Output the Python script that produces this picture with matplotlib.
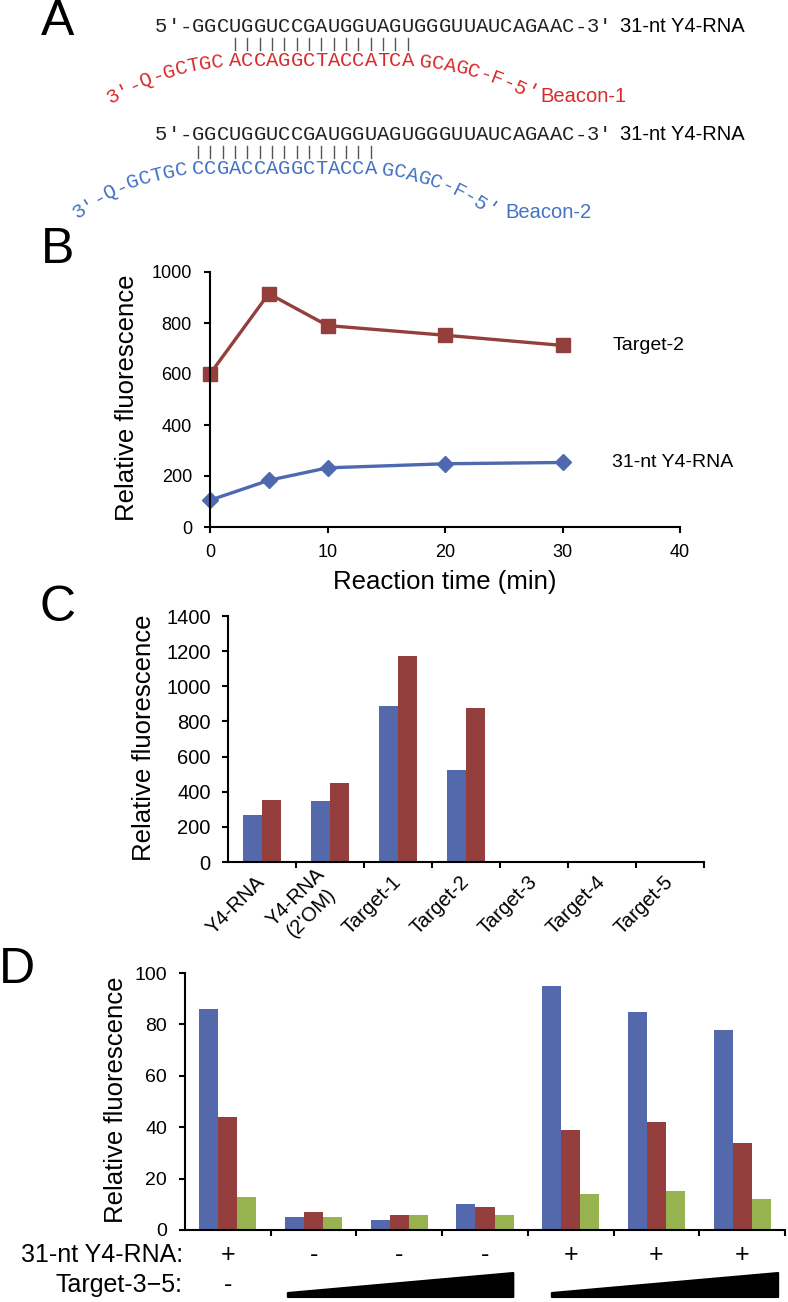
import numpy as np
import matplotlib
matplotlib.use("Agg")
import matplotlib.pyplot as plt
from matplotlib import transforms
from matplotlib.patches import Polygon

plt.rcParams['font.family'] = ['Liberation Sans', 'DejaVu Sans']

# ---- data ----
# panel A: Y4-RNA and the two beacons
y4_seq = "GGCUGGUCCGAUGGUAGUGGGUUAUCAGAAC"
beacon1_left = "3′-Q-GCTGC"
beacon1_stem = "ACCAGGCTACCATCA"
beacon1_right = "GCAGC-F-5′"
beacon1_start = 3          # first paired nucleotide of Y4-RNA
beacon2_left = "3′-Q-GCTGC"
beacon2_stem = "CCGACCAGGCTACCA"
beacon2_right = "GCAGC-F-5′"
beacon2_start = 0

# panel B: time course
time_min = [0, 5, 10, 20, 30]
target2_fl = [600, 915, 790, 752, 712]
y4rna_fl = [105, 183, 232, 248, 253]

# panel C
c_labels = ["Y4-RNA", "Y4-RNA\n(2'OM)", "Target-1", "Target-2", "Target-3", "Target-4", "Target-5"]
c_blue = [265, 350, 885, 525, 4, 1, 8]
c_red = [355, 450, 1170, 875, 2, 1, 5]

# panel D
d_y4 = ["+", "-", "-", "-", "+", "+", "+"]
d_target = ["-", "", "", "", "", "", ""]
d_blue = [86, 5, 4, 10, 95, 85, 78]
d_red = [44, 7, 6, 9, 39, 42, 34]
d_green = [13, 5, 6, 6, 14, 15, 12]

# ---- style ----
W, H = 788, 1302
BLUE = '#5469AC'
RED = '#943F3E'
GREEN = '#97B34F'
TXT_RED = '#D92B2B'
TXT_BLUE = '#4472C4'
mono = ['Liberation Mono', 'DejaVu Sans Mono']
seq_fs = 14.8
cw = seq_fs / 72 * 100 * 0.6   # char width in px
x0 = 155

fig = plt.figure(figsize=(W / 100, H / 100), dpi=100)


def rect(l, t, r, b):
    return [l / W, 1 - b / H, (r - l) / W, (b - t) / H]


ov = fig.add_axes([0, 0, 1, 1])
ov.set_xlim(0, W)
ov.set_ylim(H, 0)
ov.axis('off')

# panel letters
for letter, (lx, ly) in zip("ABCD", [(58, 22), (58, 250), (58, 608), (17, 970)]):
    ov.text(lx, ly, letter, fontsize=36, ha='center', va='center')


def arm(xs, ys, chars, a0, a1, direction, col):
    angs = np.linspace(a0, a1, len(chars))
    seq = chars if direction > 0 else chars[::-1]
    x, y = xs, ys
    for i, ch in enumerate(seq):
        if i > 0:
            th = np.radians((angs[i] + angs[i - 1]) / 2)
            x += direction * cw * np.cos(th)
            y += cw * np.sin(th)
        rot = -angs[i] if direction > 0 else angs[i]
        ov.text(x, y, ch, family=mono, fontsize=seq_fs, color=col, rotation=rot,
                rotation_mode='anchor', ha='center', va='center')


def duplex(y_top, y_stem, left, stem, right, start, col, name, a_left, a_right, lab_xy):
    top = "5′-" + y4_seq + "-3′"
    for i, ch in enumerate(top):
        ov.text(x0 + (i + 0.5) * cw, y_top, ch, family=mono, fontsize=seq_fs,
                ha='center', va='center', color='#222222')
    ov.text(x0 + len(top) * cw + 9, y_top, "31-nt Y4-RNA", fontsize=14.5, ha='left', va='center')
    i0 = start + 3
    for k, ch in enumerate(stem):
        xc = x0 + (i0 + k + 0.5) * cw
        ov.plot([xc, xc], [y_top + 11, y_top + 23], color='#555555', lw=1)
        ov.text(xc, y_stem, ch, family=mono, fontsize=seq_fs, ha='center', va='center', color=col)
    first = x0 + (i0 + 0.5) * cw
    last = x0 + (i0 + len(stem) - 0.5) * cw
    arm(first - cw - 5, y_stem + 1, left, a_left[0], a_left[1], -1, col)
    arm(last + cw + 5, y_stem + 1, right, a_right[0], a_right[1], 1, col)
    ov.text(lab_xy[0], lab_xy[1], name, fontsize=14.5, color=col, ha='left', va='center')


duplex(27, 61, beacon1_left, beacon1_stem, beacon1_right, beacon1_start, TXT_RED,
       "Beacon-1", (6, 30), (6, 28), (540, 97))
duplex(135, 169, beacon2_left, beacon2_stem, beacon2_right, beacon2_start, TXT_BLUE,
       "Beacon-2", (8, 36), (8, 36), (505, 212))


def style_axes(ax):
    for s in ['top', 'right']:
        ax.spines[s].set_visible(False)
    for s in ['left', 'bottom']:
        ax.spines[s].set_linewidth(1.5)
    ax.tick_params(which='both', direction='out', width=1.5, length=4)


# ---- panel B ----
axB = fig.add_axes(rect(210, 272, 680, 527))
axB.plot(time_min, target2_fl, color='#953F3D', lw=2.4, marker='s', ms=10.5, clip_on=False)
axB.plot(time_min, y4rna_fl, color='#4E69B0', lw=2.4, marker='D', ms=8.5, clip_on=False)
axB.set_xlim(0, 40)
axB.set_ylim(0, 1000)
axB.set_xticks([0, 10, 20, 30, 40])
axB.set_yticks(range(0, 1001, 200))
style_axes(axB)
axB.tick_params(axis='y', labelsize=13, pad=9)
axB.tick_params(axis='x', labelsize=13, pad=8)
axB.annotate("Target-2", (time_min[-1], target2_fl[-1]), xytext=(50, 0),
             textcoords='offset pixels', fontsize=14, va='center')
axB.annotate("31-nt Y4-RNA", (time_min[-1], y4rna_fl[-1]), xytext=(50, 0),
             textcoords='offset pixels', fontsize=14, va='center')
fig.text(127 / W, 1 - 398 / H, "Relative fluorescence", rotation=90, fontsize=18.5,
         ha='center', va='center')
fig.text(445 / W, 1 - 582 / H, "Reaction time (min)", fontsize=18.5, ha='center', va='center')

# ---- panel C ----
axC = fig.add_axes(rect(228, 616, 704, 862))
xc = np.arange(len(c_labels))
wc = 0.285
axC.bar(xc - wc / 2, c_blue, wc, color=BLUE)
axC.bar(xc + wc / 2, c_red, wc, color=RED)
axC.set_xlim(-0.5, len(c_labels) - 0.5)
axC.set_ylim(0, 1400)
axC.set_yticks(range(0, 1401, 200))
style_axes(axC)
axC.tick_params(axis='y', labelsize=14.5, pad=8.5)
axC.set_xticks(xc)
axC.set_xticklabels(c_labels, rotation=45, ha='right', va='center', rotation_mode='anchor',
                    multialignment='center', fontsize=14.5)
axC.tick_params(axis='x', which='major', length=0, pad=12)
axC.set_xticks(xc + 0.5, minor=True)
fig.text(144 / W, 1 - 738 / H, "Relative fluorescence", rotation=90, fontsize=18.5,
         ha='center', va='center')

# ---- panel D ----
axD = fig.add_axes(rect(185, 973, 785, 1230))
xd = np.arange(len(d_blue))
wd = 0.222
axD.bar(xd - wd, d_blue, wd, color=BLUE)
axD.bar(xd, d_red, wd, color=RED)
axD.bar(xd + wd, d_green, wd, color=GREEN)
axD.set_xlim(-0.5, len(d_blue) - 0.5)
axD.set_ylim(0, 100)
axD.set_yticks(range(0, 101, 20))
style_axes(axD)
axD.tick_params(axis='y', labelsize=14, pad=9)
axD.set_xticks([])
axD.set_xticks(xd + 0.5, minor=True)
fig.text(116 / W, 1 - 1100 / H, "Relative fluorescence", rotation=90, fontsize=18.5,
         ha='center', va='center')

trD = transforms.blended_transform_factory(axD.transData, axD.transAxes)
ph = 1230 - 973
for i in range(len(d_y4)):
    axD.text(i, -25 / ph, d_y4[i], transform=trD, fontsize=18, ha='center', va='center')
    if d_target[i]:
        axD.text(i, -55 / ph, d_target[i], transform=trD, fontsize=18, ha='center', va='center')
ov.text(183, 1255, "31-nt Y4-RNA:", fontsize=18, ha='right', va='center')
ov.text(183, 1285, "Target-3−5:", fontsize=18, ha='right', va='center')

# concentration wedges
for xa, xb in [(0.70, 3.33), (3.78, 6.42)]:
    poly = Polygon([(xa, -63 / ph), (xb, -43 / ph), (xb, -67 / ph), (xa, -67 / ph)],
                   closed=True, transform=trD, clip_on=False, facecolor='black',
                   edgecolor='black', lw=1.5, joinstyle='round')
    axD.add_patch(poly)

fig.savefig("out.png", dpi=100)
